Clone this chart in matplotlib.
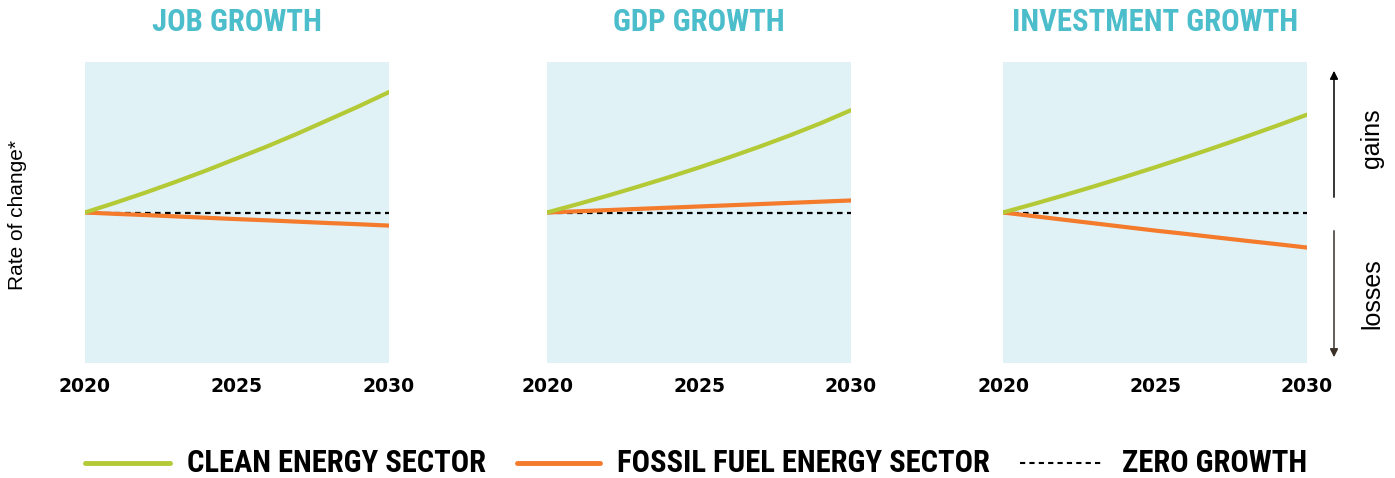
import matplotlib
matplotlib.use('Agg')
import matplotlib.pyplot as plt
from matplotlib.lines import Line2D
from matplotlib.patches import FancyArrowPatch

years = [2020, 2021, 2022, 2023, 2024, 2025, 2026, 2027, 2028, 2029, 2030]
titles = ['JOB GROWTH', 'GDP GROWTH', 'INVESTMENT GROWTH']

clean = [
    [0, 0.065, 0.133, 0.205, 0.28, 0.36, 0.44, 0.525, 0.615, 0.705, 0.80],
    [0, 0.055, 0.112, 0.172, 0.234, 0.299, 0.367, 0.438, 0.513, 0.593, 0.68],
    [0, 0.056, 0.114, 0.174, 0.236, 0.30, 0.366, 0.434, 0.504, 0.576, 0.65],
]
fossil = [
    [0, -0.009, -0.017, -0.026, -0.035, -0.044, -0.052, -0.061, -0.07, -0.078, -0.087],
    [0, 0.008, 0.016, 0.024, 0.032, 0.04, 0.048, 0.056, 0.064, 0.072, 0.08],
    [0, -0.024, -0.048, -0.072, -0.096, -0.12, -0.142, -0.165, -0.188, -0.21, -0.233],
]
zero = [0] * len(years)
legend_labels = ['CLEAN ENERGY SECTOR', 'FOSSIL FUEL ENERGY SECTOR', 'ZERO GROWTH']

GREEN = '#b3c935'
ORANGE = '#f47a2c'
BG = '#e1f2f6'
TEAL = '#4bbdcb'
NARROW = ['Roboto Condensed', 'Liberation Sans Narrow', 'Roboto', 'DejaVu Sans']
SANS = ['Liberation Sans', 'DejaVu Sans']
DASH = (0, (2.5, 2))

W, H = 1395, 478
fig = plt.figure(figsize=(W / 100, H / 100), dpi=100)
renderer = fig.canvas.get_renderer()


def fx(px):
    return px / W


def fy(py):
    return 1 - py / H


def fit_size(text, width_px, size=20):
    # pick a font size so the text is about width_px wide
    t = fig.text(0, 0, text, fontsize=size, fontweight='bold', family=NARROW)
    w = t.get_window_extent(renderer).width
    t.remove()
    return size * width_px / w


lefts = [85, 547, 1003]
title_size = fit_size(titles[0], 170)
for i, left in enumerate(lefts):
    ax = fig.add_axes([fx(left), fy(363), 304 / W, 301 / H])
    ax.set_facecolor(BG)
    ax.plot(years, zero, color='black', lw=1.6, ls=DASH, zorder=2)
    ax.plot(years, fossil[i], color=ORANGE, lw=3, solid_capstyle='round', zorder=3)
    ax.plot(years, clean[i], color=GREEN, lw=3, solid_capstyle='round', zorder=4)
    ax.set_xlim(2020, 2030)
    ax.set_ylim(-1, 1)
    ax.set_xticks([2020, 2025, 2030])
    ax.set_yticks([])
    ax.tick_params(axis='x', length=0, pad=10)
    for lab in ax.get_xticklabels():
        lab.set_fontweight('bold')
        lab.set_fontsize(13.5)
        lab.set_family('DejaVu Sans')
    for s in ax.spines.values():
        s.set_visible(False)
    fig.text(fx(left + 152), fy(22), titles[i], color=TEAL, fontsize=title_size,
             fontweight='bold', family=NARROW, ha='center', va='center')

fig.text(fx(18), fy(215), 'Rate of change*', rotation=90, ha='center',
         va='center', fontsize=15, family=SANS)

# gains / losses arrows
fig.add_artist(FancyArrowPatch((fx(1334), fy(200)), (fx(1334), fy(68)),
                               transform=fig.transFigure, arrowstyle='-|>',
                               mutation_scale=12, color='black', lw=1.1))
fig.add_artist(FancyArrowPatch((fx(1334), fy(228)), (fx(1334), fy(360)),
                               transform=fig.transFigure, arrowstyle='-|>',
                               mutation_scale=12, color='#3a3028', lw=1.1))
fig.text(fx(1372), fy(138), 'gains', rotation=90, ha='center', va='center',
         fontsize=18, family=SANS)
fig.text(fx(1372), fy(294), 'losses', rotation=90, ha='center', va='center',
         fontsize=18, family=SANS)

# legend drawn by hand
leg_size = fit_size(legend_labels[0], 300)
leg_y = fy(463)
fig.add_artist(Line2D([fx(85), fx(170)], [leg_y, leg_y], color=GREEN, lw=3.5,
                      solid_capstyle='round'))
fig.add_artist(Line2D([fx(517), fx(600)], [leg_y, leg_y], color=ORANGE, lw=3.5,
                      solid_capstyle='round'))
fig.add_artist(Line2D([fx(1020), fx(1102)], [leg_y, leg_y], color='black', lw=1.5,
                      ls=DASH))
for x0, lab in zip([187, 617, 1122], legend_labels):
    fig.text(fx(x0), leg_y, lab, fontsize=leg_size, fontweight='bold',
             family=NARROW, ha='left', va='center')

fig.savefig('out.png', dpi=100)
